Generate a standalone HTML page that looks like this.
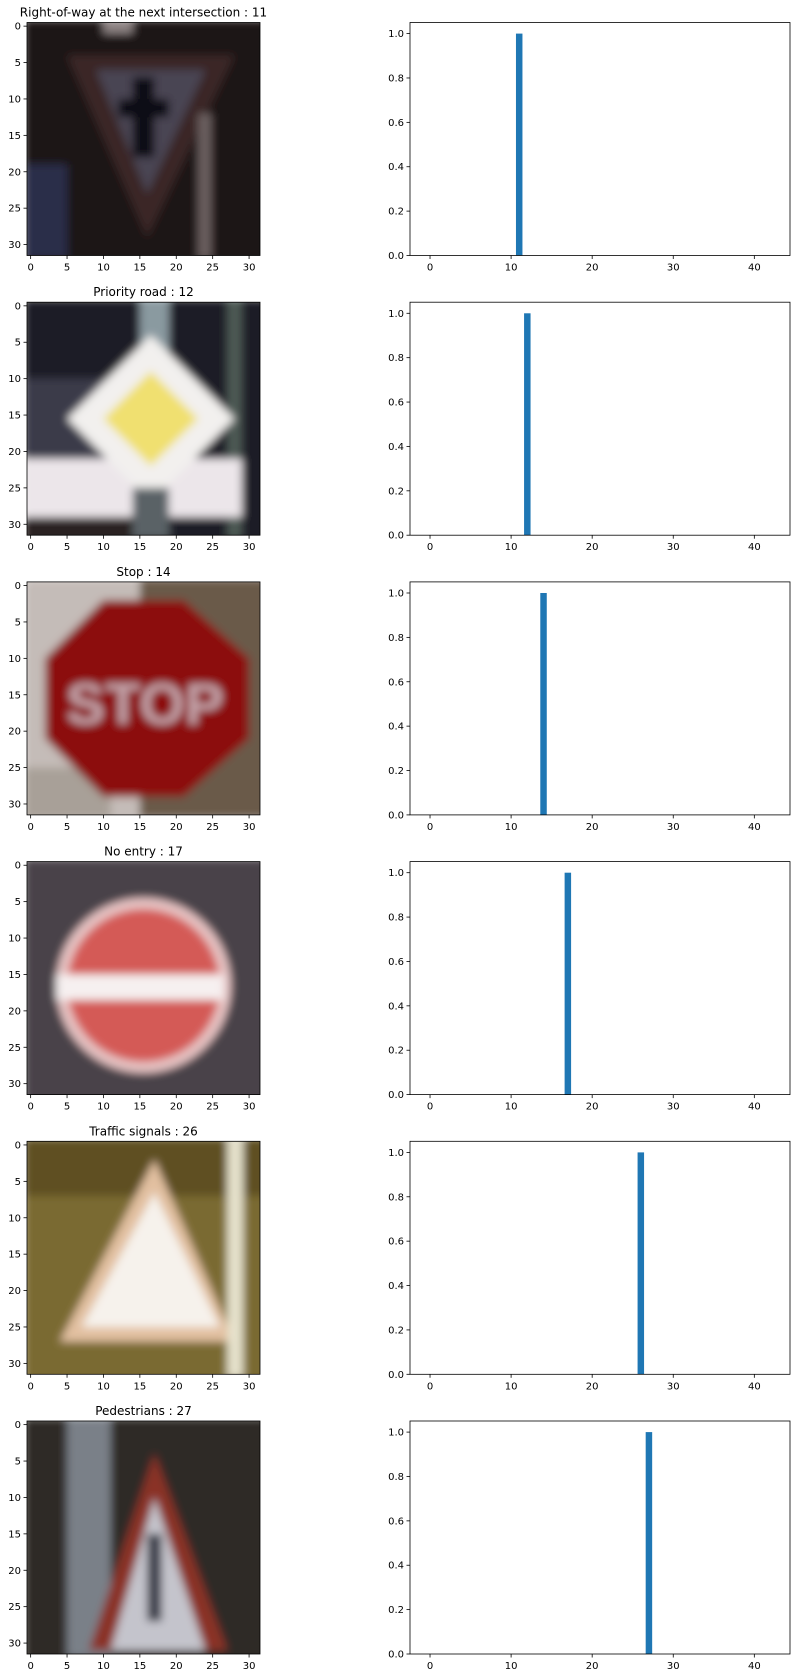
<!DOCTYPE html>
<html><head><meta charset="utf-8"><style>
html,body{margin:0;padding:0;background:#fff;}
svg{display:block;font-family:"DejaVu Sans","Liberation Sans",sans-serif;}
</style></head><body>
<svg id="fig" width="797" height="1678" viewBox="0 0 797 1678">
<defs>
<filter id="px" x="0" y="0" width="1" height="1"><feGaussianBlur stdDeviation="0.6"/></filter>
<clipPath id="sq"><rect x="-0.5" y="-0.5" width="32" height="32"/></clipPath>
<symbol id="sign0" viewBox="-0.5 -0.5 32 32">
<g clip-path="url(#sq)" filter="url(#px)">
<rect x="-1" y="-1" width="34" height="34" fill="#1b1517"/>
<rect x="10" y="-1" width="4" height="2" fill="#8e8484"/>
<rect x="-1" y="19" width="6" height="13" fill="#2c2e48"/>
<polygon points="5,4 28,4 16,29" fill="#3a2828"/>
<polygon points="9,6 24,6 16,23" fill="#4a4452"/>
<rect x="14" y="7" width="3" height="11" fill="#0c0a12"/>
<rect x="12" y="10" width="7" height="2.5" fill="#0c0a12"/>
<rect x="23" y="12" width="1.8" height="20" fill="#6a5e5e"/>
</g></symbol>
<symbol id="sign1" viewBox="-0.5 -0.5 32 32">
<g clip-path="url(#sq)" filter="url(#px)">
<rect x="-1" y="-1" width="34" height="34" fill="#1e1e26"/>
<rect x="-1" y="10" width="14" height="12" fill="#3a3a48"/>
<rect x="15" y="-1" width="4" height="10" fill="#8a9aa0"/>
<rect x="27" y="-1" width="2" height="33" fill="#4e5a54"/>
<rect x="-1" y="21" width="30" height="8" fill="#ece6ea"/>
<polygon points="16.5,4 28,15.5 16.5,27 5,15.5" fill="#f2f0ee"/>
<polygon points="16.5,9 23,15.5 16.5,22 10,15.5" fill="#f0e070"/>
<rect x="14" y="25" width="5" height="7" fill="#5a6266"/>
<rect x="-1" y="29" width="15" height="3" fill="#2a2422"/>
</g></symbol>
<symbol id="sign2" viewBox="-0.5 -0.5 32 32">
<g clip-path="url(#sq)" filter="url(#px)">
<rect x="-1" y="-1" width="34" height="34" fill="#c4bcb8"/>
<rect x="15" y="-1" width="18" height="33" fill="#6a5a48"/>
<rect x="-1" y="25" width="12" height="7" fill="#a8a098"/>
<polygon points="10,2 21,2 30,10 30,21 21,29 10,29 2,21 2,10" fill="#8c0a10"/>
<text x="15.7" y="19" font-size="8" font-weight="bold" fill="#c4a4aa" text-anchor="middle" font-family="Liberation Sans">STOP</text>
</g></symbol>
<symbol id="sign3" viewBox="-0.5 -0.5 32 32">
<g clip-path="url(#sq)" filter="url(#px)">
<rect x="-1" y="-1" width="34" height="34" fill="#48434a"/>
<circle cx="15.5" cy="16.5" r="12" fill="#e8c4c4"/>
<circle cx="15.5" cy="16.5" r="10.5" fill="#d45a56"/>
<rect x="3.5" y="15" width="23" height="3.5" fill="#f6f0f0"/>
</g></symbol>
<symbol id="sign4" viewBox="-0.5 -0.5 32 32">
<g clip-path="url(#sq)" filter="url(#px)">
<rect x="-1" y="-1" width="34" height="34" fill="#7a6a32"/>
<rect x="-1" y="-1" width="34" height="8" fill="#5e5022"/>
<polygon points="17,2 4,27 28,27" fill="#e2c0a0"/>
<polygon points="17,6.5 7,25 26,25" fill="#f6f2ec"/>
<rect x="27" y="-1" width="2.2" height="33" fill="#e6e2cc"/>
</g></symbol>
<symbol id="sign5" viewBox="-0.5 -0.5 32 32">
<g clip-path="url(#sq)" filter="url(#px)">
<rect x="-1" y="-1" width="34" height="34" fill="#2e2c28"/>
<rect x="5" y="-1" width="6" height="33" fill="#7a8088"/>
<polygon points="17,4 8,31 27,31" fill="#8a3028"/>
<polygon points="17,10 11,31 24,31" fill="#c4c4cc"/>
<rect x="16" y="15" width="2" height="12" fill="#3a3c48"/>
</g></symbol>
</defs>
<g id="rows"></g>
</svg>
<script>
const titles = ["Right-of-way at the next intersection","Priority road","Stop","No entry","Traffic signals","Pedestrians"];
const predClass = [11,12,14,17,26,27];
const predProb = [1.0,1.0,1.0,1.0,1.0,1.0];
const imgTicks = [0,5,10,15,20,25,30];
const xTicks = [0,10,20,30,40];
const yTicks = [0.0,0.2,0.4,0.6,0.8,1.0];
const nClasses = 43;

const NS="http://www.w3.org/2000/svg";
const root=document.getElementById('rows');
function mk(tag,attrs,parent){const e=document.createElementNS(NS,tag);for(const k in attrs)e.setAttribute(k,attrs[k]);parent.appendChild(e);return e;}
const PITCH=279.7, TOP0=22.5, H=233;
const IX0=27, IW=233;
const BX0=410, BW=380;
const xMin=-2.47, xMax=44.4, yMin=0, yMax=1.05;
for(let r=0;r<titles.length;r++){
  const top=TOP0+PITCH*r;
  const g=mk('g',{},root);
  
  
  const ip=mk('g',{},g);
  
  
  const t=mk('text',{x:IX0+IW/2,y:top-6,'font-size':12,'text-anchor':'middle',fill:'#000'},ip);
  t.textContent=titles[r]+' : '+predClass[r];
  
  
  const u=mk('use',{href:'#sign'+r,x:IX0,y:top,width:IW,height:H},ip);
  
  
  mk('rect',{x:IX0,y:top,width:IW,height:H,fill:'none',stroke:'#000','stroke-width':0.8},ip);
  const px=IW/32;
  const ix=v=>IX0+(v+0.5)*px, iy=v=>top+(v+0.5)*px;
  imgTicks.forEach(v=>{
    mk('line',{x1:ix(v),x2:ix(v),y1:top+H,y2:top+H+3.5,stroke:'#000','stroke-width':0.8},ip);
    const a=mk('text',{x:ix(v),y:top+H+15,'font-size':10,'text-anchor':'middle',fill:'#000'},ip);a.textContent=v;
    
    
    mk('line',{x1:IX0-3.5,x2:IX0,y1:iy(v),y2:iy(v),stroke:'#000','stroke-width':0.8},ip);
    const b=mk('text',{x:IX0-6,y:iy(v)+3.5,'font-size':10,'text-anchor':'end',fill:'#000'},ip);b.textContent=v;
    
    
  });
  const bp=mk('g',{},g);
  
  
  const sx=v=>BX0+(v-xMin)/(xMax-xMin)*BW;
  const sy=v=>top+H-(v-yMin)/(yMax-yMin)*H;
  for(let c=0;c<nClasses;c++){
    const val=c===predClass[r]?predProb[r]:0;
    if(val<=0)continue;
    const bar=mk('rect',{x:sx(c-0.4),y:sy(val),width:sx(c+0.4)-sx(c-0.4),height:sy(0)-sy(val),fill:'#1f77b4'},bp);
    
    
  }
  mk('rect',{x:BX0,y:top,width:BW,height:H,fill:'none',stroke:'#000','stroke-width':0.8},bp);
  xTicks.forEach(v=>{
    mk('line',{x1:sx(v),x2:sx(v),y1:top+H,y2:top+H+3.5,stroke:'#000','stroke-width':0.8},bp);
    const a=mk('text',{x:sx(v),y:top+H+15,'font-size':10,'text-anchor':'middle',fill:'#000'},bp);a.textContent=v;
    
    
  });
  yTicks.forEach(v=>{
    mk('line',{x1:BX0-3.5,x2:BX0,y1:sy(v),y2:sy(v),stroke:'#000','stroke-width':0.8},bp);
    const b=mk('text',{x:BX0-6,y:sy(v)+3.5,'font-size':10,'text-anchor':'end',fill:'#000'},bp);b.textContent=v.toFixed(1);
    
    
  });
}
</script>
</body></html>
